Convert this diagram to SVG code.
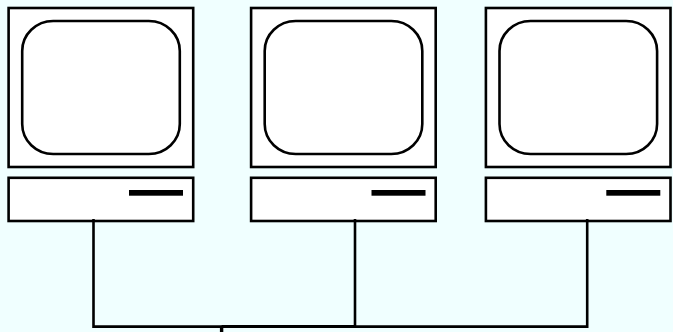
<svg xmlns="http://www.w3.org/2000/svg" width="673" height="332" viewBox="0 0 673 332">
<defs>
<style>
.b{fill:#fff;stroke:#000;stroke-width:2.6}
.c{fill:none;stroke:#000;stroke-width:2.6}
.bar{fill:#000}
</style>
<g id="pc">
<rect class="b" x="8.6" y="8" width="184.6" height="159"/>
<rect class="b" x="22.2" y="21" width="157.6" height="133" rx="31" ry="30"/>
<rect class="b" x="8.6" y="177.8" width="184.6" height="43.2"/>
<rect class="bar" x="129" y="190" width="54" height="5.7"/>
</g>
</defs>
<rect width="673" height="332" fill="#f0ffff"/>
<g id="computer-1"><use href="#pc"/></g>
<g id="computer-2"><use href="#pc" x="242.5"/></g>
<g id="computer-3"><use href="#pc" x="477.3"/></g>
<g id="connectors">
<path class="c" d="M93.5 219V326.6H587.2V219"/>
<path class="c" d="M355 219V326.6"/>
<path d="M221.6 326.6V332" fill="none" stroke="#000" stroke-width="3.4"/>
<path d="M221.6 326.6H355" fill="none" stroke="#000" stroke-width="3"/>
</g>
</svg>
